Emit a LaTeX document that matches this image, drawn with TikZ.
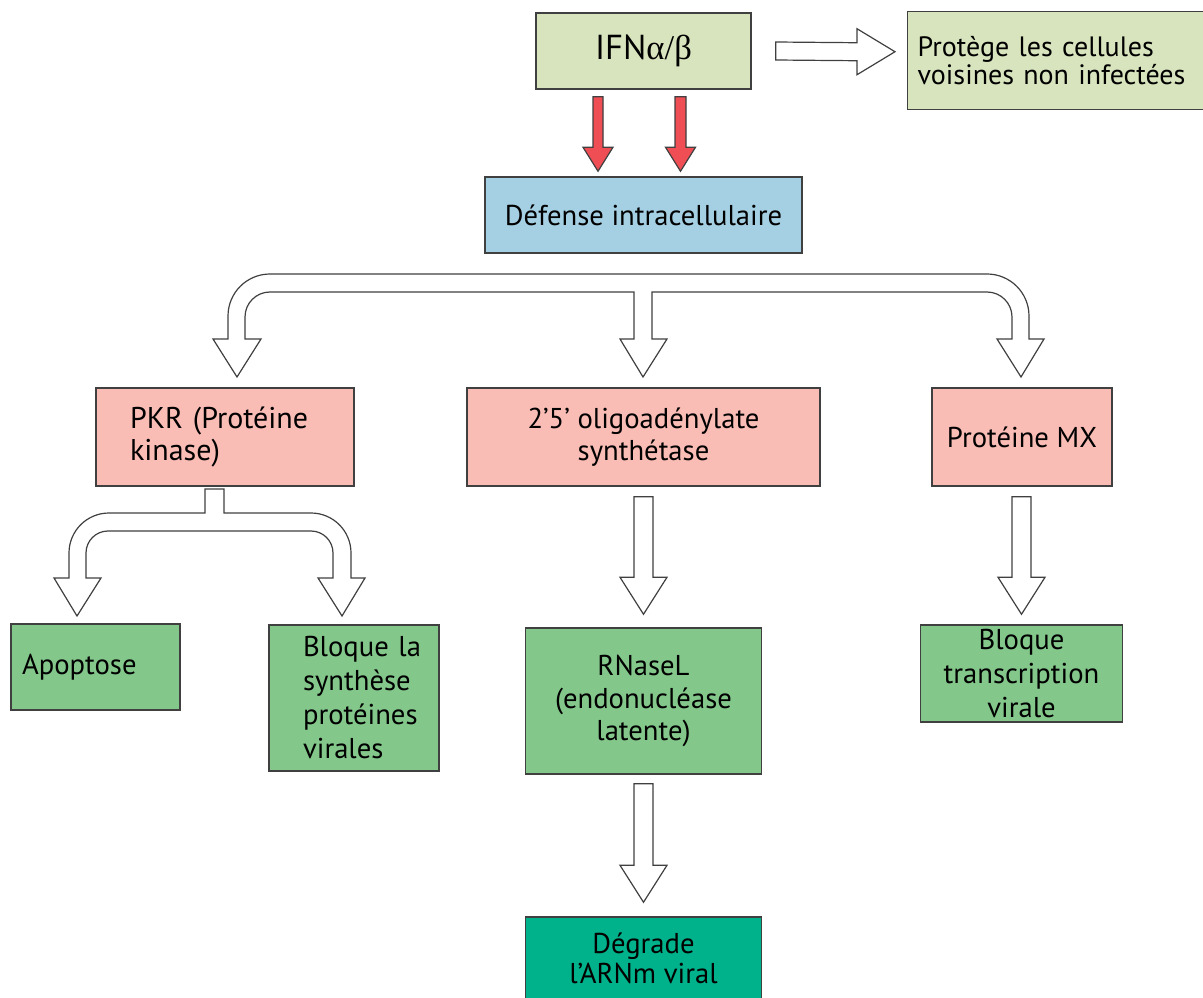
\documentclass[tikz,border=0pt]{standalone}
\usepackage{fontspec}
\setmainfont{PT Sans}
\newfontfamily\grkfont{Liberation Serif}
\usetikzlibrary{calc}
\definecolor{ifngreen}{RGB}{215,228,189}
\definecolor{defblue}{RGB}{165,208,228}
\definecolor{enzpink}{RGB}{249,189,181}
\definecolor{effgreen}{RGB}{131,199,139}
\definecolor{degteal}{RGB}{0,178,140}
\definecolor{arrowred}{RGB}{239,78,85}
\definecolor{edge}{RGB}{64,64,64}
\newcommand\txt{\fontsize{21.5}{24.5}\selectfont}
\newcommand\ifnfont{\fontsize{26}{30}\selectfont}
\newcommand\protfont{\fontsize{21}{21.5}\selectfont}
\newcommand\pkrfont{\fontsize{22.5}{24}\selectfont}
\newcommand\blqfont{\fontsize{21.5}{25.5}\selectfont}
\newcommand\degfont{\fontsize{21.5}{22.5}\selectfont}

\begin{document}
\begin{tikzpicture}[x=0.75pt, y=-0.75pt,
    bx/.style={draw=edge, line width=1.1pt, inner sep=0pt, align=center, font=\txt},
    wh/.style 2 args={minimum width=#1*0.75pt, minimum height=#2*0.75pt},
    hollow/.style={draw=edge, fill=white, line width=0.9pt, line join=miter},
    redarr/.style={draw=edge, fill=arrowred, line width=0.9pt, line join=miter},
    blockdown/.style n args={3}{to path={
      ($(\tikztostart)+(-#1,0)$) -- ($(\tikztotarget)+(-#1,-#3)$) -- ($(\tikztotarget)+(-#2,-#3)$)
      -- (\tikztotarget) -- ($(\tikztotarget)+(#2,-#3)$) -- ($(\tikztotarget)+(#1,-#3)$)
      -- ($(\tikztostart)+(#1,0)$) -- cycle}},
    blockright/.style n args={3}{to path={
      ($(\tikztostart)+(0,-#1)$) -- ($(\tikztotarget)+(-#3,-#1)$) -- ($(\tikztotarget)+(-#3,-#2)$)
      -- (\tikztotarget) -- ($(\tikztotarget)+(-#3,#2)$) -- ($(\tikztotarget)+(-#3,#1)$)
      -- ($(\tikztostart)+(0,#1)$) -- cycle}}]
    \useasboundingbox (0,0) rectangle (1203,998);
    \clip (0,0) rectangle (1203,998);

    % interferon and its two effects
    \node[bx, wh={215}{76}, fill=ifngreen, font=\ifnfont] (ifn) at (643.5,51) {IFN{\grkfont α/β}};
    \node[bx, wh={310}{98}, fill=ifngreen, anchor=north west, align=left, inner xsep=7.5pt,
          text width=217.5pt, font=\protfont] (prot) at (907,11) {Protège les cellules\\voisines non infectées};
    \node[bx, wh={317}{76}, fill=defblue] (def) at (643.5,215) {Défense intracellulaire};

    % enzymes
    \node[bx, wh={258}{98}, fill=enzpink, align=left, inner xsep=25.5pt, text width=142.5pt,
          font=\pkrfont] (pkr) at (225,437) {PKR (Protéine\\kinase)};
    \node[bx, wh={353}{98}, fill=enzpink] (oas) at (643.5,437) {2’5’ oligoadénylate\\synthétase};
    \node[bx, wh={180}{98}, fill=enzpink] (mx) at (1022,437) {Protéine MX};

    % results
    \node[bx, wh={169}{86}, fill=effgreen, align=left, inner xsep=8.25pt, text width=110.25pt] (apo) at (95.5,667) {Apoptose};
    \node[bx, wh={170}{146}, fill=effgreen, align=left, inner xsep=25.5pt, text width=76.5pt,
          font=\blqfont] (blq) at (354,698) {Bloque~la\\synthèse\\protéines\\virales};
    \node[bx, wh={236}{146}, fill=effgreen] (rna) at (643.5,701) {RNaseL\\(endonucléase\\latente)};
    \node[bx, wh={202}{97}, fill=effgreen, font=\blqfont] (btr) at (1021.5,673.5) {Bloque\\transcription\\virale};
    \node[bx, wh={236}{82}, fill=degteal, font=\degfont] (deg) at (643.5,958) {Dégrade\\l’ARNm viral};

    % straight arrows
    \draw[hollow, blockright={9}{23}{38}] ($(ifn.east)+(24,0)$) to ($(prot.west)+(-12,-9)$);
    \draw[redarr, blockdown={5}{15}{24}] ($(ifn.south)+(-45.5,7)$) to ($(def.north)+(-45.5,-5)$);
    \draw[redarr, blockdown={5.5}{15}{24}] ($(ifn.south)+(37,7)$) to ($(def.north)+(37,-5)$);
    \draw[hollow, blockdown={9.5}{23.5}{37}] ($(oas.south)+(0,10)$) to ($(rna.north)+(0,-13)$);
    \draw[hollow, blockdown={9.5}{23.5}{37}] ($(rna.south)+(0,9)$) to ($(deg.north)+(0,-14)$);
    \draw[hollow, blockdown={9.5}{23.5}{37}] ($(mx.south)+(-0.5,10)$) to ($(btr.north)+(0,-10)$);

    % three-way arrow under the defence box
    \draw[hollow] (228,339) -- (228,316) arc[start angle=180, end angle=270, radius=42]
      -- (987,274) arc[start angle=270, end angle=360, radius=42]
      -- (1029,339) -- (1044,339) -- (1021,377) -- (997,339) -- (1012,339)
      -- (1012,317) arc[start angle=0, end angle=-90, radius=25]
      -- (652,292) -- (652,339) -- (667,339) -- (643,377) -- (620,339) -- (634,339) -- (634,292)
      -- (270,292) arc[start angle=270, end angle=180, radius=25]
      -- (245,339) -- (261,339) -- (237,377) -- (213,339) -- cycle;

    % split arrow under PKR
    \draw[hollow] (205,489) -- (205,513) -- (109,513) arc[start angle=270, end angle=180, radius=40]
      -- (69,578) -- (54,578) -- (77,616) -- (101,578) -- (86,578)
      -- (86,553) arc[start angle=180, end angle=270, radius=22]
      -- (311,531) arc[start angle=270, end angle=360, radius=22]
      -- (333,578) -- (318,578) -- (342,616) -- (365,578) -- (351,578)
      -- (351,553) arc[start angle=0, end angle=-90, radius=40]
      -- (224,513) -- (224,489) -- cycle;
\end{tikzpicture}
\end{document}
